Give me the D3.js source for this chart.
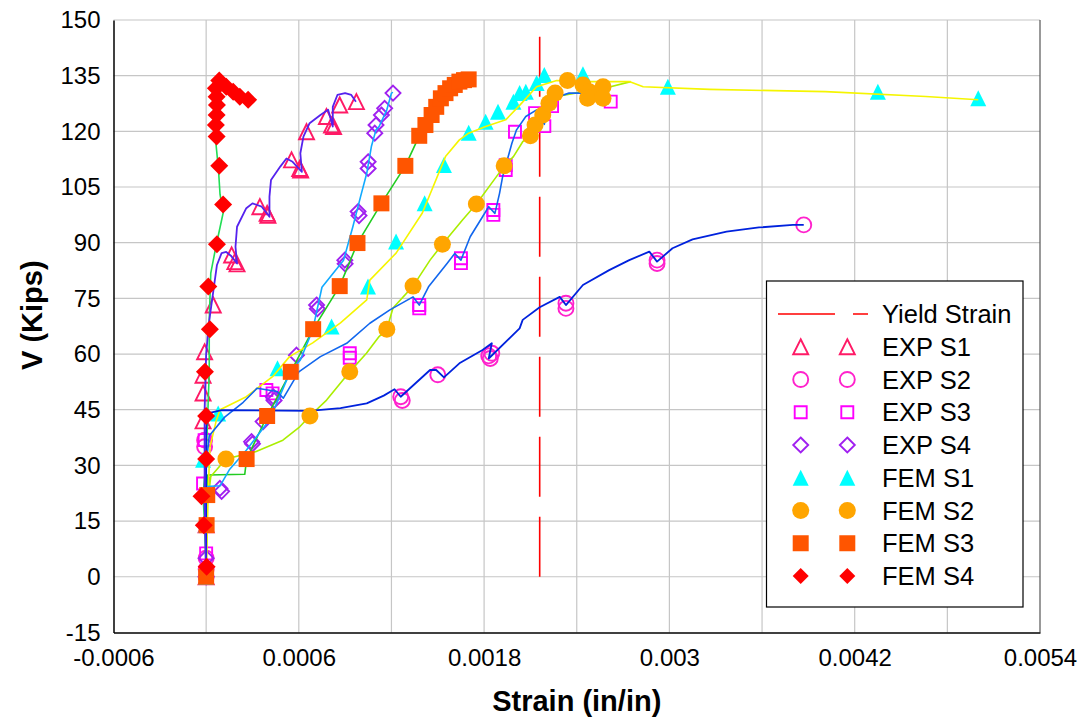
<!DOCTYPE html>
<html><head><meta charset="utf-8">
<script src="https://cdn.jsdelivr.net/npm/d3@7"></script>
<style>
html,body{margin:0;padding:0;background:#fff;}
svg{display:block;font-family:"Liberation Sans",Arial,sans-serif;}
</style></head><body>
<svg id="c" width="1089" height="721"></svg>
<script>
// ---------- data ----------
const xTicks = [-0.0006, 0.0006, 0.0018, 0.003, 0.0042, 0.0054];
const xTickLabels = ["-0.0006", "0.0006", "0.0018", "0.003", "0.0042", "0.0054"];
const xGrid = [0, 0.0006, 0.0012, 0.0018, 0.0024, 0.003, 0.0036, 0.0042, 0.0048];
const yTicks = [-15, 0, 15, 30, 45, 60, 75, 90, 105, 120, 135, 150];
const legendLabels = ["Yield Strain","EXP S1","EXP S2","EXP S3","EXP S4","FEM S1","FEM S2","FEM S3","FEM S4"];

const yieldLine = [[0.00216, 0], [0.00216, 146]];

// continuous curves [strain, V]
const lineExpS1 = [[0,0],[-0.00001,20],[-0.00001,45],[0,60],[0.00002,69],[0.00005,78],[0.00007,84],[0.0001,87.2],[0.00013,87.5],[0.00016,86.5],[0.0002,84.4],[0.00019,88.9],[0.0002,94.3],[0.00026,99.3],[0.0003,100.6],[0.00036,99.7],[0.00041,97],[0.00041,102.4],[0.00042,106.9],[0.00048,110.5],[0.00052,112.7],[0.00056,111.8],[0.00062,109.1],[0.00061,114.1],[0.00063,118.6],[0.00067,122.2],[0.00074,124.4],[0.00079,125.8],[0.00082,121.3],[0.00082,126.6],[0.00085,129.8],[0.0009,130.3],[0.00094,129.8],[0.00097,128]];
const lineExpS2 = [[0,0],[0,20],[0,40],[0.00001,44],[0.0001,44.9],[0.00067,44.7],[0.00087,45.4],[0.00104,46.7],[0.00115,48.8],[0.00122,50.5],[0.00126,48.5],[0.00145,55.7],[0.00149,55.7],[0.00154,53.7],[0.00164,57.5],[0.00179,61.1],[0.00185,62.9],[0.00183,58.8],[0.00203,66.9],[0.00205,69.2],[0.00216,72.6],[0.00229,75.4],[0.00233,73.2],[0.00244,78.6],[0.00261,82.6],[0.00274,85.3],[0.00287,87.6],[0.00292,84.9],[0.00302,88.5],[0.00315,90.9],[0.00337,93],[0.00358,94.1],[0.0038,94.8],[0.00387,94.8]];
const lineExpS3 = [[0,0],[0,20],[0,30],[0.00002,38],[0.00012,43],[0.00024,47],[0.00033,50.8],[0.00046,49.9],[0.0005,48.1],[0.0006,55.2],[0.00074,59.3],[0.00091,62.9],[0.00106,68.3],[0.00119,71.9],[0.00134,75.4],[0.00138,73.2],[0.00144,78.1],[0.00156,84.4],[0.00161,87.1],[0.00165,85.3],[0.00171,91.6],[0.00179,97],[0.00183,99.7],[0.00187,97.9],[0.0019,103.3],[0.00192,107.8],[0.00195,112.3],[0.00198,116.8],[0.00201,120.4],[0.00207,124],[0.00214,125.8],[0.00219,121.9],[0.00222,128.5],[0.00235,130.3],[0.00246,130.3],[0.00261,127.6]];
const lineExpS4 = [[0,0],[0,15],[0,24.3],[0.00009,24.5],[0.00015,28.8],[0.00026,34.1],[0.00041,42.2],[0.00054,54.8],[0.00061,58.4],[0.00069,66.5],[0.00075,78],[0.00089,85.3],[0.00095,94.3],[0.001,102.4],[0.00104,108.7],[0.00107,115.9],[0.0011,120.4],[0.00112,121.3],[0.00117,125.8],[0.0012,130.3],[0.00121,130.5]];
const lineFemS1 = [[0,0],[0.00001,20],[0.00002,30],[0.000025,35],[0.000065,42],[0.00009,45],[0.00026,48.5],[0.00043,53.9],[0.00054,59.3],[0.00069,63],[0.00087,68.4],[0.00104,74.6],[0.00106,79.9],[0.00123,87.2],[0.0014,98],[0.00155,113.2],[0.00164,117.7],[0.0017,119.5],[0.00181,121.3],[0.00194,123.1],[0.00203,127],[0.00214,132],[0.00227,133.7],[0.00246,133.4],[0.00274,133.4],[0.00283,132],[0.00326,131.3],[0.00401,130.7],[0.00466,129.4],[0.005,128.5]];
const lineFemS2 = [[0,0],[0.00001,20],[0.00003,27],[0.000128,31.7],[0.00032,33.7],[0.000497,36.8],[0.000606,40.4],[0.000672,43.3],[0.00078,47.6],[0.00093,55.2],[0.001038,60.2],[0.00112,64.7],[0.00117,66.7],[0.00121,72.4],[0.00134,78.3],[0.00145,85.3],[0.00153,89.6],[0.00166,96.1],[0.00175,100.4],[0.00188,107.8],[0.00193,110.7],[0.00199,113.2],[0.00205,117.2],[0.0021,118.8],[0.00213,121.7],[0.00218,124.4],[0.00222,127.6],[0.00226,129.3],[0.00239,130.3],[0.00258,131.6],[0.00275,133.4]];
const lineFemS3 = [[0,0],[0,14],[0.000005,22],[0.00001,27.4],[0.00025,27.6],[0.000262,31.7],[0.000395,43.3],[0.000548,55.2],[0.000693,66.7],[0.000865,78.3],[0.00098,89.9],[0.001135,100.6],[0.00129,110.7],[0.00138,118.8],[0.00146,124.4],[0.00152,128.9],[0.00158,131.6],[0.00164,133.4],[0.0017,134]];
const lineFemS4 = [[0,0],[-0.00001,14],[-0.00002,22],[0,31.7],[0.00002,55],[0.00002,69],[0.00003,81.8],[0.000063,88.9],[0.00011,98],[0.00009,103],[0.00008,109.6],[0.000063,116.9],[0.000065,125],[0.000065,131.6],[0.000085,133.7],[0.00013,132],[0.000175,130.7],[0.000218,129.3],[0.000272,128.5]];

// markers [strain, V]
const expS1 = [[0,0],[0,14],[-0.00002,42],[-0.00002,49.5],[-0.00002,54.3],[-0.00001,60.6],[0.000046,73.2],[0.000165,86.7],[0.000186,84.9],[0.0002,84.3],[0.000348,99.7],[0.000395,97.9],[0.0004,97.4],[0.000553,112.3],[0.000606,110],[0.000612,109.6],[0.00065,119.9],[0.000779,124],[0.000812,121.7],[0.000825,121.3],[0.000865,127.1],[0.000973,128]];
const expS2 = [[0,0],[0,2],[0,5],[-0.00001,35],[-0.00001,36.8],[0.00126,48.5],[0.00127,47.5],[0.0015,54.4],[0.00183,59.5],[0.00184,58.8],[0.00185,60.2],[0.00233,73.7],[0.00233,72.3],[0.00292,85.3],[0.00292,84.4],[0.00387,94.8]];
const expS3 = [[0,0],[0,6.3],[-0.00002,25.1],[-0.00001,36.8],[0.00039,50.3],[0.00043,49.4],[0.00093,60.2],[0.00093,59],[0.00138,73.2],[0.00138,72.3],[0.00165,85.8],[0.00165,84.5],[0.00186,98.8],[0.00186,97.5],[0.00194,110.9],[0.00194,109.6],[0.002,119.9],[0.00213,124.9],[0.00219,121.4],[0.00224,126.8],[0.00262,128]];
const expS4 = [[0,0],[0,5],[0.000089,23.8],[0.0001,23],[0.000294,36.4],[0.0003,35.8],[0.000369,41.8],[0.000434,48.5],[0.00044,47.5],[0.000585,59.7],[0.000715,73.2],[0.00072,72.2],[0.000898,85.3],[0.0009,84.3],[0.000984,98.4],[0.00099,97.3],[0.001049,110],[0.001049,111.8],[0.001092,119.5],[0.0011,121.7],[0.001135,124.4],[0.001156,126.2],[0.00121,130.3]];
const femS1 = [[0,0],[0,14],[-0.00002,31.5],[0.000078,44],[0.000462,56.2],[0.000812,67.4],[0.001048,78.2],[0.00123,90.3],[0.001415,100.6],[0.00154,110.9],[0.0017,119.6],[0.00181,122.6],[0.00189,125.3],[0.00199,128],[0.00203,130.3],[0.00207,130.7],[0.00214,133],[0.00219,135.2],[0.00244,135.4],[0.00299,132],[0.00435,130.7],[0.005,128.9]];
const femS2 = [[0.000128,31.7],[0.000672,43.3],[0.00093,55.2],[0.00117,66.7],[0.00134,78.3],[0.00153,89.6],[0.00175,100.4],[0.00193,110.7],[0.0021,118.8],[0.00213,121.7],[0.00218,124.4],[0.00222,127.6],[0.00226,130.3],[0.00234,133.7],[0.00244,132.5],[0.00248,130.7],[0.00247,128.9],[0.00257,132],[0.00257,128.9]];
const femS3 = [[0,0],[0.000003,13.9],[0.000007,22],[0.000262,31.7],[0.000395,43.3],[0.000548,55.2],[0.000693,66.7],[0.000865,78.3],[0.00098,89.9],[0.001135,100.6],[0.00129,110.7],[0.00138,118.8],[0.00142,121.7],[0.00146,124.4],[0.00149,126.6],[0.00152,128.9],[0.00155,130.3],[0.00158,131.6],[0.00161,132.5],[0.00164,133.4],[0.00167,133.8],[0.0017,134]];
const femS4 = [[0.000003,2.7],[-0.000015,13.9],[-0.00003,21.7],[0,31.7],[0,43.3],[-0.000008,55.2],[0.000024,66.7],[0.000014,78.2],[0.00007,89.6],[0.00011,100.3],[0.000085,110.7],[0.000068,118.6],[0.000063,121.7],[0.000068,124.4],[0.00007,127.1],[0.000068,129.3],[0.000063,131.6],[0.000085,133.7],[0.00013,132],[0.000175,130.7],[0.000218,129.3],[0.000272,128.5]];

// ---------- chart ----------
const svg = d3.select("#c");
const L = 113.5, R = 1040, T = 20, B = 632.4;
const x = d3.scaleLinear().domain([-0.0006, 0.0054]).range([L, R]);
const y = d3.scaleLinear().domain([-15, 150]).range([B, T]);

// grid
const grid = svg.append("g").attr("stroke", "#c6c6c6").attr("stroke-width", 1.2);
grid.selectAll("line.v").data(xGrid).join("line")
  .attr("x1", d => x(d)).attr("x2", d => x(d)).attr("y1", T).attr("y2", B);
grid.selectAll("line.h").data(yTicks.slice(1)).join("line")
  .attr("y1", d => y(d)).attr("y2", d => y(d)).attr("x1", L).attr("x2", R);
svg.append("line").attr("x1", R).attr("x2", R).attr("y1", T).attr("y2", B).attr("stroke", "#555").attr("stroke-width", 1.2);

// axes
const xAxis = svg.append("g").attr("transform", `translate(0,${B})`)
  .call(d3.axisBottom(x).tickValues(xTicks).tickFormat((d, i) => xTickLabels[i]).tickSize(0).tickPadding(17));
const yAxis = svg.append("g").attr("transform", `translate(${L},0)`)
  .call(d3.axisLeft(y).tickValues(yTicks).tickFormat(d => String(d)).tickSize(0).tickPadding(13));
[xAxis, yAxis].forEach(g => {
  g.select(".domain").attr("stroke", "#000").attr("stroke-width", 1.5);
  g.selectAll("text").attr("font-size", 24).attr("fill", "#000").attr("font-family", '"Liberation Sans",Arial,sans-serif');
});

svg.append("text").attr("x", (L + R) / 2).attr("y", 711).attr("text-anchor", "middle")
  .attr("font-size", 29).attr("font-weight", "bold").text("Strain (in/in)");
svg.append("text").attr("transform", `translate(42,${(T + B) / 2 - 11}) rotate(-90)`).attr("text-anchor", "middle")
  .attr("font-size", 29).attr("font-weight", "bold").text("V (Kips)");

const plot = svg.append("g");
const lineGen = d3.line().x(d => x(d[0])).y(d => y(d[1]));

// yield strain
plot.append("path").datum(yieldLine).attr("d", lineGen).attr("fill", "none")
  .attr("stroke", "#ff0000").attr("stroke-width", 1.6).attr("stroke-dasharray", "60,20");

// symbol types
const triType = { draw(ctx, size) { const s = Math.sqrt(size); ctx.moveTo(0, -s / 2); ctx.lineTo(s / 2, s / 2); ctx.lineTo(-s / 2, s / 2); ctx.closePath(); } };
const diaType = { draw(ctx, size) { const h = Math.sqrt(size) / 2; ctx.moveTo(0, -h); ctx.lineTo(h, 0); ctx.lineTo(0, h); ctx.lineTo(-h, 0); ctx.closePath(); } };
const sqType = { draw(ctx, size) { const h = Math.sqrt(size) / 2; ctx.rect(-h, -h, 2 * h, 2 * h); } };
const cirType = { draw(ctx, size) { const r = Math.sqrt(size) / 2; ctx.moveTo(r, 0); ctx.arc(0, 0, r, 0, 2 * Math.PI); } };

const styles = {
  expS1: { type: triType, size: 15 * 15, fill: "none", stroke: "#ff1a66" },
  expS2: { type: cirType, size: 15 * 15, fill: "none", stroke: "#ff22cc" },
  expS3: { type: sqType, size: 12 * 12, fill: "none", stroke: "#ff00ff" },
  expS4: { type: diaType, size: 15 * 15, fill: "none", stroke: "#a020f0" },
  femS1: { type: triType, size: 16 * 16, fill: "#00ffff", stroke: "none" },
  femS2: { type: cirType, size: 17 * 17, fill: "#ffa500", stroke: "none" },
  femS3: { type: sqType, size: 16 * 16, fill: "#ff5500", stroke: "none" },
  femS4: { type: diaType, size: 18 * 18, fill: "#ff0000", stroke: "none" }
};
function drawMarkers(g, data, st, sx, sy) {
  g.selectAll(null).data(data).join("path")
    .attr("transform", d => `translate(${sx ? sx(d) : x(d[0])},${sy ? sy(d) : y(d[1])})`)
    .attr("d", d3.symbol().type(st.type).size(st.size))
    .attr("fill", st.fill).attr("stroke", st.stroke).attr("stroke-width", 1.9);
}
function drawLine(data, color, w) {
  plot.append("path").datum(data).attr("d", lineGen).attr("fill", "none")
    .attr("stroke", color).attr("stroke-width", w || 1.6).attr("stroke-linejoin", "round");
}

// EXP markers under lines
drawMarkers(plot.append("g"), expS1, styles.expS1);
drawMarkers(plot.append("g"), expS2, styles.expS2);
drawMarkers(plot.append("g"), expS3, styles.expS3);
drawMarkers(plot.append("g"), expS4, styles.expS4);
drawMarkers(plot.append("g"), femS1, styles.femS1);

drawLine(lineFemS3, "#22cc22");
drawLine(lineFemS4, "#22dd55");
drawLine(lineFemS2, "#aaee00");
drawLine(lineFemS1, "#f5f500");
drawLine(lineExpS4, "#11aaff");
drawLine(lineExpS3, "#1166ee");
drawLine(lineExpS2, "#0022dd", 1.8);
drawLine(lineExpS1, "#5522ee", 1.8);

drawMarkers(plot.append("g"), femS2, styles.femS2);
drawMarkers(plot.append("g"), femS3, styles.femS3);
drawMarkers(plot.append("g"), femS4, styles.femS4);

// legend
const lg = svg.append("g");
lg.append("rect").attr("x", 766.5).attr("y", 281).attr("width", 256.5).attr("height", 326)
  .attr("fill", "#fff").attr("stroke", "#000").attr("stroke-width", 1.2);
const ly = i => 314 + i * 32.75;
lg.append("line").attr("x1", 778).attr("x2", 868).attr("y1", ly(0)).attr("y2", ly(0))
  .attr("stroke", "#ff0000").attr("stroke-width", 1.6).attr("stroke-dasharray", "57,18");
const keys = ["expS1","expS2","expS3","expS4","femS1","femS2","femS3","femS4"];
keys.forEach((k, i) => {
  const st = Object.assign({}, styles[k]);
  if (k === "femS4") st.size = 16 * 16;
  drawMarkers(lg.append("g"), [[800.7, ly(i + 1)], [847.3, ly(i + 1)]], st, d => d[0], d => d[1]);
});
lg.selectAll("text").data(legendLabels).join("text")
  .attr("x", 882).attr("y", (d, i) => ly(i)).attr("dy", "0.36em")
  .attr("font-size", 25.5).attr("fill", "#000").text(d => d);
</script>
</body></html>
